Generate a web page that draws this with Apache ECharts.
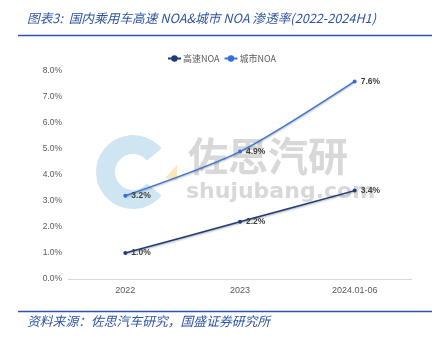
<!DOCTYPE html>
<html>
<head>
<meta charset="utf-8">
<style>
  html, body { margin: 0; padding: 0; background: #fff; }
  #chart { width: 443px; height: 343px; }
</style>
<script src="https://cdn.jsdelivr.net/npm/echarts@6/dist/echarts.min.js"></script>
</head>
<body>
<div id="chart"></div>
<script>
// Penetration of highway / urban NOA in domestic passenger cars
const categories = ['2022', '2023', '2024.01-06'];
const highwayNOA = [1.0, 2.2, 3.4];
const urbanNOA = [3.2, 4.9, 7.6];
const seriesNames = ['高速NOA', '城市NOA'];
const titleText = '图表3:  国内乘用车高速 NOA&城市 NOA 渗透率(2022-2024H1)';
const sourceText = '资料来源：佐思汽车研究，国盛证券研究所';

const navy = '#1f3b78';
const brandBlue = '#2d55a3';
const cjk = '"Noto Sans CJK SC", "Noto Sans", sans-serif';

const chart = echarts.init(document.getElementById('chart'), null, { renderer: 'canvas' });

function labelFmt(p) { return p.value.toFixed(1) + '%'; }

chart.setOption({
  backgroundColor: '#ffffff',
  animation: false,
  textStyle: { fontFamily: '"Liberation Sans", Arial, sans-serif' },
  graphic: [
    // heading
    { type: 'text', left: 27, top: 12, z: 10,
      style: { text: titleText, fill: brandBlue, font: 'italic 12.7px ' + cjk } },
    { type: 'line', z: 10, shape: { x1: 18, y1: 35.5, x2: 432, y2: 35.5 },
      style: { stroke: brandBlue, lineWidth: 1.6 } },
    // footer
    { type: 'line', z: 10, shape: { x1: 18, y1: 311.5, x2: 432, y2: 311.5 },
      style: { stroke: brandBlue, lineWidth: 1.6 } },
    { type: 'text', left: 27, top: 315, z: 10,
      style: { text: sourceText, fill: brandBlue, font: 'italic 12.8px ' + cjk } },
    // background brand mark
    { type: 'sector', z: -1,
      shape: { cx: 133, cy: 172, r: 37, r0: 18, startAngle: Math.PI * 0.22, endAngle: Math.PI * 1.78 },
      style: { fill: '#cfe6f2' } },
    { type: 'polygon', z: -1,
      shape: { points: [[165, 178], [177, 165], [177, 180]] },
      style: { fill: '#fbe8b8' } },
    { type: 'text', left: 188, top: 136, z: -1,
      style: { text: '佐思汽研', fill: '#d8d8d8', font: 'bold 40px ' + cjk } },
    { type: 'text', left: 186, top: 181, z: -1,
      style: { text: 'shujubang.com', fill: '#d8d8d8', font: 'bold 22px "DejaVu Sans", sans-serif' } }
  ],
  legend: {
    top: 49,
    left: 'center',
    itemWidth: 13,
    itemHeight: 8,
    itemGap: 4,
    textStyle: { fontSize: 9, color: '#595959', fontFamily: cjk, padding: [0, 0, 0, -3] },
    data: seriesNames
  },
  grid: { left: 68, right: 31, top: 71, bottom: 64 },
  xAxis: {
    type: 'category',
    data: categories,
    boundaryGap: true,
    axisLine: { lineStyle: { color: '#d9d9d9' } },
    axisTick: { show: false },
    axisLabel: { color: '#595959', fontSize: 9, margin: 7 }
  },
  yAxis: {
    type: 'value',
    min: 0,
    max: 8,
    interval: 1,
    axisLine: { show: false },
    axisTick: { show: false },
    splitLine: { show: false },
    axisLabel: { color: '#595959', fontSize: 8.5, margin: 6, formatter: v => v.toFixed(1) + '%' }
  },
  series: [
    {
      name: seriesNames[0],
      type: 'line',
      smooth: 0.25,
      data: highwayNOA,
      symbol: 'circle',
      symbolSize: 4,
      itemStyle: { color: navy },
      lineStyle: { color: navy, width: 1.5, shadowColor: 'rgba(0,0,0,0.35)', shadowBlur: 2, shadowOffsetY: 1 },
      label: { show: true, position: 'right', distance: 4, formatter: labelFmt,
               color: '#404040', fontSize: 8.5, fontWeight: 'bold' }
    },
    {
      name: seriesNames[1],
      type: 'line',
      smooth: 0.25,
      data: urbanNOA,
      symbol: 'circle',
      symbolSize: 4,
      itemStyle: { color: '#2f6fe0' },
      lineStyle: { color: '#3f78d0', width: 1.5, shadowColor: 'rgba(0,0,0,0.3)', shadowBlur: 2, shadowOffsetY: 1 },
      label: { show: true, position: 'right', distance: 4, formatter: labelFmt,
               color: '#404040', fontSize: 8.5, fontWeight: 'bold' }
    }
  ]
});
</script>
</body>
</html>
